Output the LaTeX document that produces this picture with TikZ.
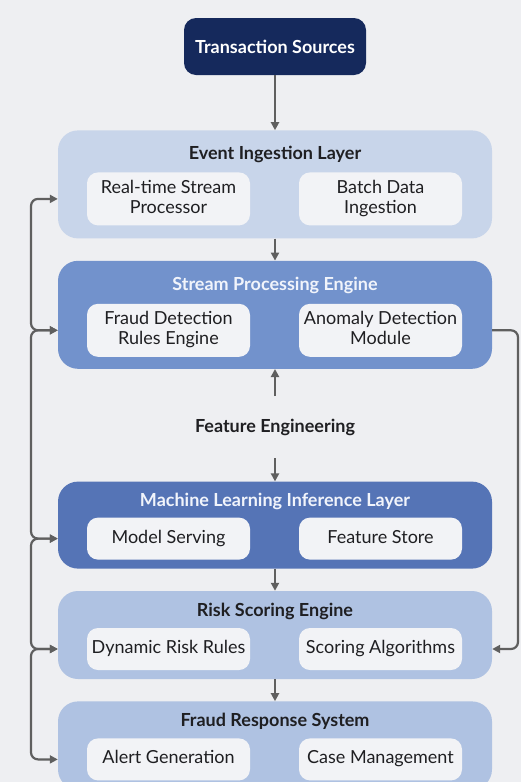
\documentclass[tikz,border=0pt]{standalone}
\usepackage{fontspec}
\setmainfont{Lato}
\usetikzlibrary{arrows.meta,positioning}
\definecolor{pageBg}{HTML}{EEEFF2}
\definecolor{srcFill}{HTML}{15295C}
\definecolor{lightFill}{HTML}{C8D5EA}
\definecolor{midFill}{HTML}{7292CC}
\definecolor{deepFill}{HTML}{5574B6}
\definecolor{paleFill}{HTML}{AFC2E2}
\definecolor{cardFill}{HTML}{F2F3F6}
\definecolor{lineGray}{HTML}{5F5F5F}
\definecolor{inkDark}{HTML}{1F1F22}
\definecolor{inkLight}{HTML}{F1F4FB}
\tikzset{
  font=\fontsize{18}{20.5}\selectfont,
  layer/.style ={rounded corners=20pt, minimum width=434pt, inner sep=0pt},
  card/.style  ={fill=cardFill, rounded corners=11pt, align=center, minimum width=163pt, text=inkDark, inner sep=0pt},
  duo/.style   ={card, minimum height=53pt, text depth=4.5pt},
  solo/.style  ={card, minimum height=42pt, text height=13pt, text depth=4pt},
  head/.style  ={font=\fontsize{18}{20.5}\selectfont\bfseries, text=inkDark, inner sep=0pt, text height=13.5pt, text depth=4.5pt},
  arr/.style   ={-{Triangle[length=8pt,width=8pt]}, line width=2.2pt, draw=lineGray},
  feed/.style  ={{Triangle[length=8pt,width=8pt]}-{Triangle[length=8pt,width=8pt]}, line width=2.2pt, draw=lineGray, rounded corners=7pt},
}
\begin{document}
\begin{tikzpicture}[x=1pt,y=1pt]
  \fill[pageBg] (0,0) rectangle (521,-782);
  \useasboundingbox (0,0) rectangle (521,-782);

  \node[fill=srcFill, rounded corners=12pt, minimum width=182pt, minimum height=57pt,
        text=white, font=\fontsize{18}{20.5}\selectfont\bfseries] (ts) at (275,-46.5) {Transaction Sources};

  % ingestion
  \node[layer, fill=lightFill, minimum height=108pt, below=55pt of ts] (ev) {};
  \node[head, below=16pt of ev.north] (evt) {Event Ingestion Layer};
  \node[duo, below right=42pt and 29pt of ev.north west] (evl) {Real-time Stream\\Processor};
  \node[duo, below left=42pt and 30pt of ev.north east]  (evr) {Batch Data\\Ingestion};

  % stream processing
  \node[layer, fill=midFill, minimum height=108pt, below=22pt of ev] (sp) {};
  \node[head, text=inkLight, below=16pt of sp.north] (spt) {Stream Processing Engine};
  \node[duo, below right=43pt and 29pt of sp.north west] (spl) {Fraud Detection\\Rules Engine};
  \node[duo, below left=43pt and 30pt of sp.north east]  (spr) {Anomaly Detection\\Module};

  \node[head, below=50pt of sp] (fe) {Feature Engineering};

  % inference
  \node[layer, fill=deepFill, minimum height=87pt, below=44pt of fe] (ml) {};
  \node[head, text=inkLight, below=11pt of ml.north] (mlt) {Machine Learning Inference Layer};
  \node[solo, below right=36pt and 29pt of ml.north west] (mll) {Model Serving};
  \node[solo, below left=36pt and 30pt of ml.north east]  (mlr) {Feature Store};

  % scoring
  \node[layer, fill=paleFill, minimum height=88pt, below=22pt of ml] (rs) {};
  \node[head, below=12pt of rs.north] (rst) {Risk Scoring Engine};
  \node[solo, below right=37pt and 29pt of rs.north west] (rsl) {Dynamic Risk Rules};
  \node[solo, below left=37pt and 30pt of rs.north east]  (rsr) {Scoring Algorithms};

  % response
  \node[layer, fill=paleFill, minimum height=88pt, below=22pt of rs] (fr) {};
  \node[head, below=12pt of fr.north] (frt) {Fraud Response System};
  \node[solo, below right=37pt and 29pt of fr.north west] (frl) {Alert Generation};
  \node[solo, below left=37pt and 30pt of fr.north east]  (frr) {Case Management};

  \coordinate (lrail) at (31,-400);
  \coordinate (rrail) at (518,-400);

  \draw[arr] (ts) -- (ev);
  \draw[arr] (ev) -- (sp);
  \draw[arr, shorten <=23pt] (fe) -- (sp);
  \draw[arr, shorten <=21pt] (fe) -- (ml);
  \draw[arr] (ml) -- (rs);
  \draw[arr] (rs) -- (fr);

  \foreach \p/\pc/\q/\qc in {ev/evl/sp/spl, sp/spl/ml/mll, ml/mll/rs/rsl, rs/rsl/fr/frl}
    \draw[feed] (\p.west |- \pc) -| (lrail |- \qc) -- (\q.west |- \qc);
  \draw[arr, rounded corners=7pt] (sp.east |- spr) -| (rrail |- rsr) -- (rs.east |- rsr);
\end{tikzpicture}
\end{document}
